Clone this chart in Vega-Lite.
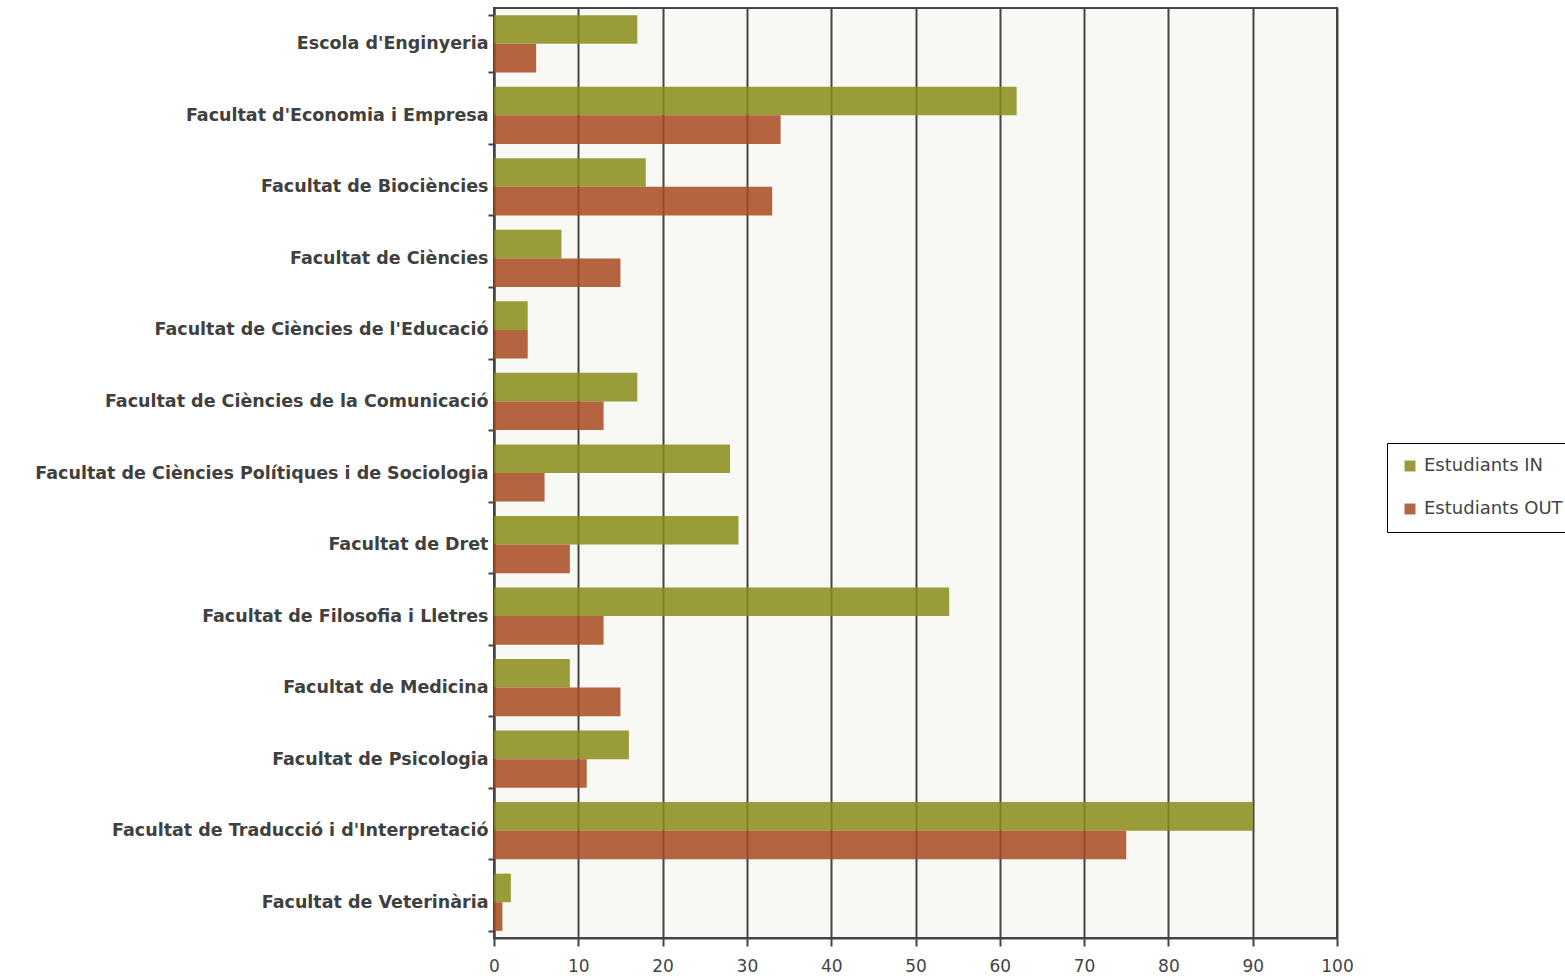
{
  "$schema": "https://vega.github.io/schema/vega-lite/v6.json",
  "autosize": "none",
  "width": 843,
  "height": 930,
  "padding": {"left": 494, "top": 8, "right": 228, "bottom": 41},
  "background": "white",
  "config": {
    "view": {"fill": "#f8f8f5", "stroke": "#444444", "strokeWidth": 2},
    "font": "DejaVu Sans"
  },
  "data": {
    "values": [
      {"centre": "Escola d'Enginyeria", "tipus": "Estudiants IN", "valor": 17},
      {"centre": "Escola d'Enginyeria", "tipus": "Estudiants OUT", "valor": 5},
      {"centre": "Facultat d'Economia i Empresa", "tipus": "Estudiants IN", "valor": 62},
      {"centre": "Facultat d'Economia i Empresa", "tipus": "Estudiants OUT", "valor": 34},
      {"centre": "Facultat de Biociències", "tipus": "Estudiants IN", "valor": 18},
      {"centre": "Facultat de Biociències", "tipus": "Estudiants OUT", "valor": 33},
      {"centre": "Facultat de Ciències", "tipus": "Estudiants IN", "valor": 8},
      {"centre": "Facultat de Ciències", "tipus": "Estudiants OUT", "valor": 15},
      {"centre": "Facultat de Ciències de l'Educació", "tipus": "Estudiants IN", "valor": 4},
      {"centre": "Facultat de Ciències de l'Educació", "tipus": "Estudiants OUT", "valor": 4},
      {"centre": "Facultat de Ciències de la Comunicació", "tipus": "Estudiants IN", "valor": 17},
      {"centre": "Facultat de Ciències de la Comunicació", "tipus": "Estudiants OUT", "valor": 13},
      {"centre": "Facultat de Ciències Polítiques i de Sociologia", "tipus": "Estudiants IN", "valor": 28},
      {"centre": "Facultat de Ciències Polítiques i de Sociologia", "tipus": "Estudiants OUT", "valor": 6},
      {"centre": "Facultat de Dret", "tipus": "Estudiants IN", "valor": 29},
      {"centre": "Facultat de Dret", "tipus": "Estudiants OUT", "valor": 9},
      {"centre": "Facultat de Filosofia i Lletres", "tipus": "Estudiants IN", "valor": 54},
      {"centre": "Facultat de Filosofia i Lletres", "tipus": "Estudiants OUT", "valor": 13},
      {"centre": "Facultat de Medicina", "tipus": "Estudiants IN", "valor": 9},
      {"centre": "Facultat de Medicina", "tipus": "Estudiants OUT", "valor": 15},
      {"centre": "Facultat de Psicologia", "tipus": "Estudiants IN", "valor": 16},
      {"centre": "Facultat de Psicologia", "tipus": "Estudiants OUT", "valor": 11},
      {"centre": "Facultat de Traducció i d'Interpretació", "tipus": "Estudiants IN", "valor": 90},
      {"centre": "Facultat de Traducció i d'Interpretació", "tipus": "Estudiants OUT", "valor": 75},
      {"centre": "Facultat de Veterinària", "tipus": "Estudiants IN", "valor": 2},
      {"centre": "Facultat de Veterinària", "tipus": "Estudiants OUT", "valor": 1}
    ]
  },
  "mark": {"type": "bar", "opacity": 0.85},
  "encoding": {
    "y": {
      "field": "centre",
      "type": "nominal",
      "sort": null,
      "title": null,
      "scale": {"paddingInner": 0.2, "paddingOuter": 0.1},
      "axis": {
        "tickBand": "extent",
        "domainColor": "#444444",
        "domainWidth": 2,
        "tickColor": "#444444",
        "tickWidth": 2,
        "tickSize": 6,
        "labelFont": "DejaVu Sans",
        "labelFontWeight": "bold",
        "labelFontSize": 17.5,
        "labelColor": "#404040",
        "labelPadding": 0,
        "labelLimit": 600
      }
    },
    "yOffset": {"field": "tipus", "type": "nominal", "sort": ["Estudiants IN", "Estudiants OUT"]},
    "x": {
      "field": "valor",
      "type": "quantitative",
      "title": null,
      "scale": {"domain": [0, 100], "nice": false},
      "axis": {
        "values": [0, 10, 20, 30, 40, 50, 60, 70, 80, 90, 100],
        "grid": true,
        "gridColor": "#444444",
        "gridWidth": 2,
        "gridOpacity": 1,
        "domainColor": "#444444",
        "domainWidth": 2,
        "tickColor": "#444444",
        "tickWidth": 2,
        "tickSize": 8,
        "labelFont": "DejaVu Sans",
        "labelFontSize": 17,
        "labelColor": "#444444",
        "labelPadding": 12,
        "labelFlush": false
      }
    },
    "color": {
      "field": "tipus",
      "type": "nominal",
      "sort": ["Estudiants IN", "Estudiants OUT"],
      "scale": {"domain": ["Estudiants IN", "Estudiants OUT"], "range": ["#8a8c18", "#a84a1e"]},
      "legend": {
        "title": null,
        "orient": "none",
        "legendX": 893,
        "legendY": 435,
        "strokeColor": "#000000",
        "fillColor": "white",
        "padding": 14,
        "symbolType": "square",
        "symbolSize": 120,
        "symbolStrokeWidth": 0,
        "symbolOpacity": 0.85,
        "labelFont": "DejaVu Sans",
        "labelFontSize": 18,
        "labelColor": "#444444",
        "rowPadding": 25,
        "labelOffset": 5,
        "encoding": {"legend": {"update": {"strokeWidth": {"value": 2}}}}
      }
    }
  }
}
